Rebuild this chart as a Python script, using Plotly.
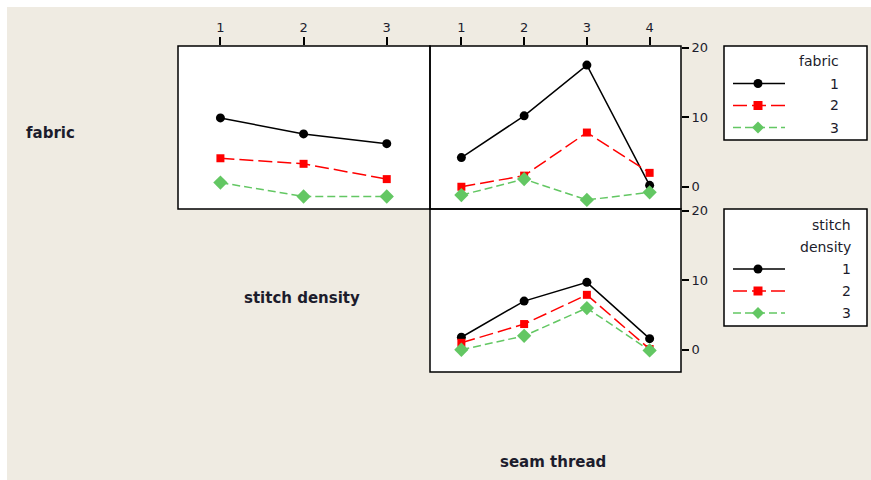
import plotly.graph_objects as go

# ---- data: interaction means -------------------------------------------
stitch_levels = [1, 2, 3]
seam_levels = [1, 2, 3, 4]
group_names = ["1", "2", "3"]

# fabric (lines) vs stitch density (x)
fabric1_by_stitch = [9.9, 7.6, 6.2]
fabric2_by_stitch = [4.1, 3.3, 1.1]
fabric3_by_stitch = [0.6, -1.4, -1.4]

# fabric (lines) vs seam thread (x)
fabric1_by_seam = [4.2, 10.2, 17.5, 0.2]
fabric2_by_seam = [0.0, 1.6, 7.8, 2.0]
fabric3_by_seam = [-1.2, 1.1, -1.9, -0.8]

# stitch density (lines) vs seam thread (x)
stitch1_by_seam = [1.8, 7.0, 9.7, 1.6]
stitch2_by_seam = [1.0, 3.7, 7.9, 0.1]
stitch3_by_seam = [0.0, 2.0, 6.0, -0.1]

y_ticks = [0, 10, 20]

# ---- styling --------------------------------------------------------------
W, H = 871, 480
BEIGE = "#EFEBE2"
TEXT = "#1c1c2c"
FONT = "DejaVu Sans"

styles = [
    dict(color="black", dash="solid", symbol="circle", msize=9),
    dict(color="#FF0000", dash="14px,5px", symbol="square", msize=8),
    dict(color="#63C763", dash="8px,4px", symbol="diamond", msize=11),
]


def px(x):
    return x / W


def py(y):
    # pixel row (from top) -> paper fraction
    return 1 - y / H


fig = go.Figure()


def add_group(xvals, series, xa, ya):
    for vals, st in zip(series, styles):
        fig.add_trace(go.Scatter(
            x=xvals, y=vals, mode="lines+markers",
            line=dict(color=st["color"], dash=st["dash"], width=1.5),
            marker=dict(symbol=st["symbol"], size=st["msize"], color=st["color"],
                        line=dict(width=0)),
            xaxis=xa, yaxis=ya, showlegend=False, hoverinfo="x+y",
        ))


add_group(stitch_levels, [fabric1_by_stitch, fabric2_by_stitch, fabric3_by_stitch], "x", "y")
add_group(seam_levels, [fabric1_by_seam, fabric2_by_seam, fabric3_by_seam], "x2", "y2")
add_group(seam_levels, [stitch1_by_seam, stitch2_by_seam, stitch3_by_seam], "x3", "y3")

# ---- axes -------------------------------------------------------------------
plain = dict(showline=False, showgrid=False, zeroline=False, fixedrange=True,
             automargin=False)
tickfont = dict(family=FONT, size=13, color=TEXT)
tickstyle = dict(ticks="outside", tickwidth=1.5, tickcolor="black", tickfont=tickfont)

panels = {
    "p1": (178, 46, 430, 209),
    "p2": (430, 46, 681, 209),
    "p3": (430, 209, 681, 372),
}
col1 = [px(178), px(430)]
col2 = [px(430), px(681)]
row1 = [py(209), py(46)]
row2 = [py(372), py(209)]
yrange = [-3.2, 20.25]

fig.update_layout(
    xaxis=dict(domain=col1, anchor="y", side="top", range=[0.49, 3.52],
               tickvals=stitch_levels, ticktext=[str(v) for v in stitch_levels],
               ticklen=8, **tickstyle, **plain),
    yaxis=dict(domain=row1, anchor="x", range=yrange, showticklabels=False,
               ticks="", **plain),
    xaxis2=dict(domain=col2, anchor="y2", side="top", range=[0.5, 4.5],
                tickvals=seam_levels, ticktext=[str(v) for v in seam_levels],
                ticklen=8, **tickstyle, **plain),
    yaxis2=dict(domain=row1, anchor="x2", side="right", range=yrange,
                tickvals=y_ticks, ticktext=[str(v) for v in y_ticks],
                ticklen=7, **tickstyle, **plain),
    xaxis3=dict(domain=col2, anchor="y3", range=[0.5, 4.5], showticklabels=False,
                ticks="", **plain),
    yaxis3=dict(domain=row2, anchor="x3", side="right", range=yrange,
                tickvals=y_ticks, ticktext=[str(v) for v in y_ticks],
                ticklen=7, **tickstyle, **plain),
)

# ---- page frame, panel frames, labels, legends -----------------------------
shapes = [
    # thin white strips along the top and left edges
    dict(type="rect", xref="paper", yref="paper", x0=0, x1=px(7), y0=0, y1=1,
         fillcolor="white", line=dict(width=0), layer="above"),
    dict(type="rect", xref="paper", yref="paper", x0=0, x1=1, y0=py(7), y1=1,
         fillcolor="white", line=dict(width=0), layer="above"),
]
for (x0, y0, x1, y1) in panels.values():
    shapes.append(dict(type="rect", xref="paper", yref="paper",
                       x0=px(x0), x1=px(x1), y0=py(y1), y1=py(y0),
                       line=dict(color="black", width=1.5), layer="above"))

annotations = []


def label(text, x, y, size, bold=False, anchor="center"):
    annotations.append(dict(
        text=f"<b>{text}</b>" if bold else text, xref="paper", yref="paper",
        x=px(x), y=py(y), xanchor=anchor, yanchor="middle", showarrow=False,
        font=dict(family=FONT, size=size, color=TEXT),
    ))


label("fabric", 50, 133, 15, bold=True)
label("stitch density", 302, 298, 15, bold=True)
label("seam thread", 553, 462, 15, bold=True)


def legend(box, title_lines, title_ys, row_ys, text_right):
    x0, y0, x1, y1 = box
    shapes.append(dict(type="rect", xref="paper", yref="paper",
                       x0=px(x0), x1=px(x1), y0=py(y1), y1=py(y0),
                       fillcolor="white", line=dict(color="black", width=1.5)))
    for t, ty in zip(title_lines, title_ys):
        label(t, text_right, ty, 14, anchor="right")
    for name, st, ry in zip(group_names, styles, row_ys):
        shapes.append(dict(type="line", xref="paper", yref="paper",
                           x0=px(733), x1=px(785), y0=py(ry), y1=py(ry),
                           line=dict(color=st["color"], width=1.5,
                                     dash=st["dash"])))
        cx = 758
        if st["symbol"] == "circle":
            r = 4.5
            shapes.append(dict(type="circle", xref="paper", yref="paper",
                               x0=px(cx - r), x1=px(cx + r), y0=py(ry + r), y1=py(ry - r),
                               fillcolor=st["color"], line=dict(width=0)))
        elif st["symbol"] == "square":
            r = 4.5
            shapes.append(dict(type="rect", xref="paper", yref="paper",
                               x0=px(cx - r), x1=px(cx + r), y0=py(ry + r), y1=py(ry - r),
                               fillcolor=st["color"], line=dict(width=0)))
        else:
            r = 6
            path = (f"M {px(cx)},{py(ry - r)} L {px(cx + r)},{py(ry)} "
                    f"L {px(cx)},{py(ry + r)} L {px(cx - r)},{py(ry)} Z")
            shapes.append(dict(type="path", xref="paper", yref="paper", path=path,
                               fillcolor=st["color"], line=dict(width=0)))
        label(name, text_right, ry, 14, anchor="right")


legend((724, 46, 867, 140), ["fabric"], [61], [83.5, 105.5, 127.5], 841)
legend((724, 209, 867, 326), ["stitch", "density"], [224.5, 246.5],
       [269, 291, 313], 853)

fig.update_layout(
    width=W, height=H, autosize=False,
    margin=dict(l=0, r=0, t=0, b=0, pad=0, autoexpand=False),
    paper_bgcolor=BEIGE, plot_bgcolor="white",
    shapes=shapes, annotations=annotations,
    showlegend=False,
)

fig.write_html("out.html", config={"displayModeBar": False})
